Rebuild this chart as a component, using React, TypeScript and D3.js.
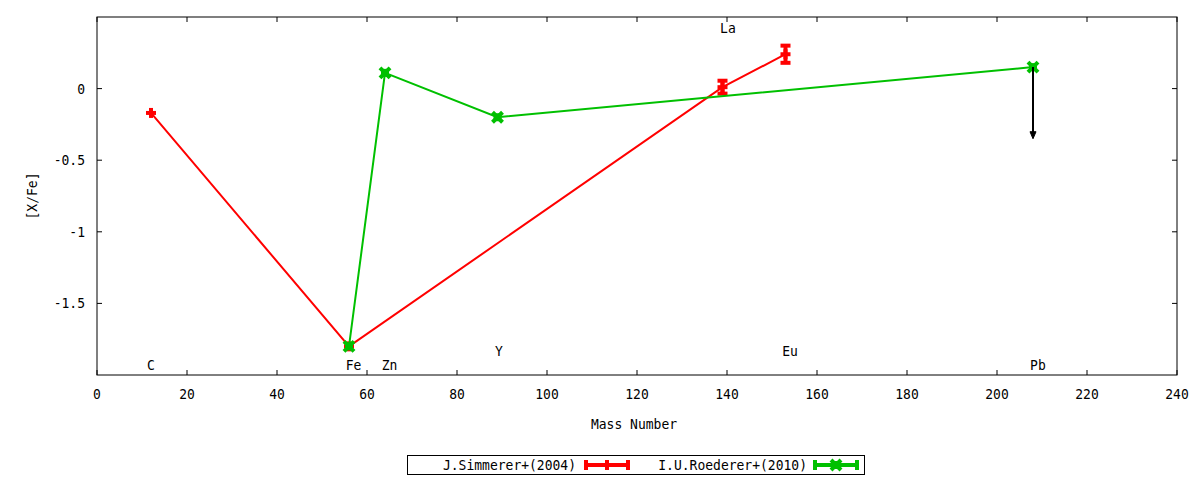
import React from "react";
import * as d3 from "d3";

const simMass = [12, 56, 139, 153];
const simVal = [-0.17, -1.8, 0.01, 0.24];
const simErr = [0, 0, 0.045, 0.06];

const roeMass = [56, 64, 89, 208];
const roeVal = [-1.8, 0.11, -0.2, 0.15];
const roeErr = [0, 0, 0, 0];

const limitMass = [208];
const limitFrom = [0.15];
const limitTo = [-0.35];

const elemNames = ["C", "Fe", "Zn", "Y", "La", "Eu", "Pb"];
const elemX = [12, 57, 65, 89.3, 140.2, 154, 209.1];
const elemY = [-1.93, -1.93, -1.93, -1.83, 0.42, -1.83, -1.93];

const xTicks = d3.range(0, 241, 20);
const yTicks = [0, -0.5, -1, -1.5];
const yTickLabels = ["0", "-0.5", "-1", "-1.5"];

const seriesNames = ["J.Simmerer+(2004)", "I.U.Roederer+(2010)"];
const seriesColors = ["#ff0000", "#00c000"];

const W = 1200, H = 480;
const L = 97, R = 1177, T = 17, B = 375;
const FONT = "'DejaVu Sans Mono', monospace";

function Txt({ x, y, anchor = "start", rotate = 0, children }: any) {
  return (
    <text
      transform={`translate(${x},${y}) rotate(${rotate}) scale(0.93,1)`}
      textAnchor={anchor}
      fill="#000"
    >
      {children}
    </text>
  );
}

function PlusMark({ cx, cy, color, s = 5, w = 4 }: any) {
  return (
    <g stroke={color} strokeWidth={w}>
      <line x1={cx - s} x2={cx + s} y1={cy} y2={cy} />
      <line x1={cx} x2={cx} y1={cy - s} y2={cy + s} />
    </g>
  );
}
function XMark({ cx, cy, color, s = 5, w = 4 }: any) {
  return (
    <g stroke={color} strokeWidth={w}>
      <line x1={cx - s} x2={cx + s} y1={cy - s} y2={cy + s} />
      <line x1={cx - s} x2={cx + s} y1={cy + s} y2={cy - s} />
      <rect x={cx - 4} y={cy - 4} width={8} height={8} fill={color} stroke="none" />
    </g>
  );
}

export default function App() {
  const x = d3.scaleLinear().domain([0, 240]).range([L, R]);
  const y = d3.scaleLinear().domain([-2, 0.5]).range([B, T]);
  const line = d3.line<[number, number]>().x((d) => x(d[0])).y((d) => y(d[1]));

  const simPts: [number, number][] = simMass.map((m, i) => [m, simVal[i]]);
  const roePts: [number, number][] = roeMass.map((m, i) => [m, roeVal[i]]);

  const errBars = (mass: number[], val: number[], err: number[], color: string) =>
    mass.map((m, i) =>
      err[i] > 0 ? (
        <g key={i} stroke={color} strokeWidth={4}>
          <line x1={x(m)} x2={x(m)} y1={y(val[i] + err[i])} y2={y(val[i] - err[i])} />
          <line x1={x(m) - 5} x2={x(m) + 5} y1={y(val[i] + err[i])} y2={y(val[i] + err[i])} />
          <line x1={x(m) - 5} x2={x(m) + 5} y1={y(val[i] - err[i])} y2={y(val[i] - err[i])} />
        </g>
      ) : null
    );

  return (
    <svg width={W} height={H} style={{ position: "absolute", left: 0, top: 0, background: "#fff" }} fontFamily={FONT} fontSize={14}>
      <rect x={0} y={0} width={W} height={H} fill="#fff" />
      {/* ticks */}
      <g stroke="#000" strokeWidth={1}>
        {xTicks.map((t) => (
          <g key={t}>
            <line x1={x(t)} x2={x(t)} y1={B} y2={B - 5} />
            <line x1={x(t)} x2={x(t)} y1={T} y2={T + 5} />
          </g>
        ))}
        {yTicks.map((t) => (
          <g key={t}>
            <line x1={L} x2={L + 5} y1={y(t)} y2={y(t)} />
            <line x1={R} x2={R - 5} y1={y(t)} y2={y(t)} />
          </g>
        ))}
      </g>
      {xTicks.map((t) => (
        <Txt key={t} x={x(t)} y={399} anchor="middle">{t}</Txt>
      ))}
      {yTicks.map((t, i) => (
        <Txt key={t} x={85} y={y(t) + 5} anchor="end">{yTickLabels[i]}</Txt>
      ))}
      <Txt x={634} y={429} anchor="middle">Mass Number</Txt>
      <Txt x={37} y={196} anchor="middle" rotate={-90}>[X/Fe]</Txt>

      {/* element labels */}
      {elemNames.map((n, i) => (
        <Txt key={n} x={x(elemX[i])} y={y(elemY[i]) + 5} anchor="middle">{n}</Txt>
      ))}

      {/* series 1 */}
      <path d={line(simPts) || ""} fill="none" stroke={seriesColors[0]} strokeWidth={2} />
      {errBars(simMass, simVal, simErr, seriesColors[0])}
      {simPts.map((p, i) => (
        <PlusMark key={i} cx={x(p[0])} cy={y(p[1])} color={seriesColors[0]} />
      ))}

      {/* series 2 */}
      <path d={line(roePts) || ""} fill="none" stroke={seriesColors[1]} strokeWidth={2} />
      {errBars(roeMass, roeVal, roeErr, seriesColors[1])}
      {roePts.map((p, i) => (
        <XMark key={i} cx={x(p[0])} cy={y(p[1])} color={seriesColors[1]} />
      ))}

      {/* upper limit arrow */}
      {limitMass.map((m, i) => (
        <g key={i}>
          <line x1={x(m)} x2={x(m)} y1={y(limitFrom[i])} y2={y(limitTo[i]) - 6} stroke="#000" strokeWidth={2} />
          <path d={`M${x(m) - 3},${y(limitTo[i]) - 7} L${x(m) + 3},${y(limitTo[i]) - 7} L${x(m)},${y(limitTo[i])} Z`} fill="#000" stroke="#000" strokeWidth={1} />
        </g>
      ))}

      {/* frame */}
      <rect x={L} y={T} width={R - L} height={B - T} fill="none" stroke="#000" strokeWidth={1} />

      {/* legend */}
      <rect x={407.5} y={455.5} width={457} height={19} fill="#fff" stroke="#000" strokeWidth={1} />
      <Txt x={576} y={470} anchor="end">{seriesNames[0]}</Txt>
      <g stroke={seriesColors[0]} strokeWidth={4}>
        <line x1={585} x2={629} y1={465} y2={465} />
        <line x1={586} x2={586} y1={460} y2={470} />
        <line x1={628} x2={628} y1={460} y2={470} />
      </g>
      <PlusMark cx={607} cy={465} color={seriesColors[0]} />
      <Txt x={807} y={470} anchor="end">{seriesNames[1]}</Txt>
      <g stroke={seriesColors[1]} strokeWidth={4}>
        <line x1={814} x2={858} y1={465} y2={465} />
        <line x1={815} x2={815} y1={460} y2={470} />
        <line x1={857} x2={857} y1={460} y2={470} />
      </g>
      <XMark cx={836} cy={465} color={seriesColors[1]} />
    </svg>
  );
}
